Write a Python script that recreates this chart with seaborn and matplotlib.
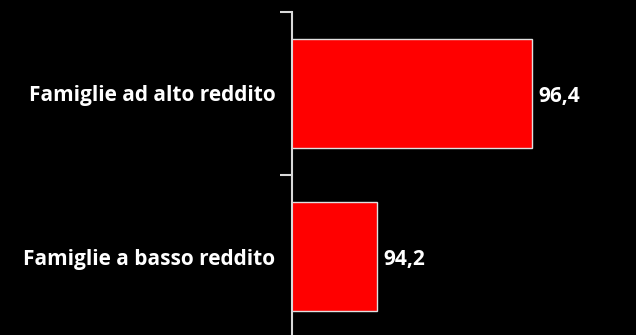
import matplotlib
matplotlib.use("Agg")
import matplotlib.pyplot as plt
import seaborn as sns
import pandas as pd

# dati
categorie = ["Famiglie ad alto reddito", "Famiglie a basso reddito"]
valori = [96.4, 94.2]
etichette = ["96,4", "94,2"]

df = pd.DataFrame({"categoria": categorie, "valore": valori})

sns.set_style("dark")
plt.rcParams["font.family"] = ["Open Sans", "DejaVu Sans"]

fig = plt.figure(figsize=(6.36, 3.35), dpi=100, facecolor="black")
ax = fig.add_axes([292 / 636, -3 / 335, 344 / 636, 326 / 335])
ax.set_facecolor("black")

sns.barplot(data=df, x="valore", y="categoria", orient="h", color="#ff0000",
            saturation=1, width=0.67, edgecolor="#e0e0e0", linewidth=1, ax=ax)

ax.set_xlim(93, 97.88)
ax.set_ylim(1.5, -0.5)

# etichette dei valori a destra delle barre
for i, (v, t) in enumerate(zip(valori, etichette)):
    ax.text(v + 0.1, i + 0.02, t, color="white", fontsize=15, fontweight="bold",
            va="center", ha="left")

ax.set_xlabel("")
ax.set_ylabel("")
ax.set_xticks([])
ax.set_yticks(range(len(categorie)))
ax.set_yticklabels(categorie, color="white", fontsize=15, fontweight="bold")
ax.tick_params(axis="y", which="major", left=True, length=0, pad=12)
ax.set_yticks([-0.5, 0.5, 1.5], minor=True)
ax.tick_params(axis="y", which="minor", left=True, length=9, width=1.5,
               color="#d9d9d9", direction="out")
ax.grid(False)

for s in ["top", "right", "bottom"]:
    ax.spines[s].set_visible(False)
ax.spines["left"].set_color("#d9d9d9")
ax.spines["left"].set_linewidth(1.5)

fig.savefig("out.png", dpi=100, facecolor="black")
